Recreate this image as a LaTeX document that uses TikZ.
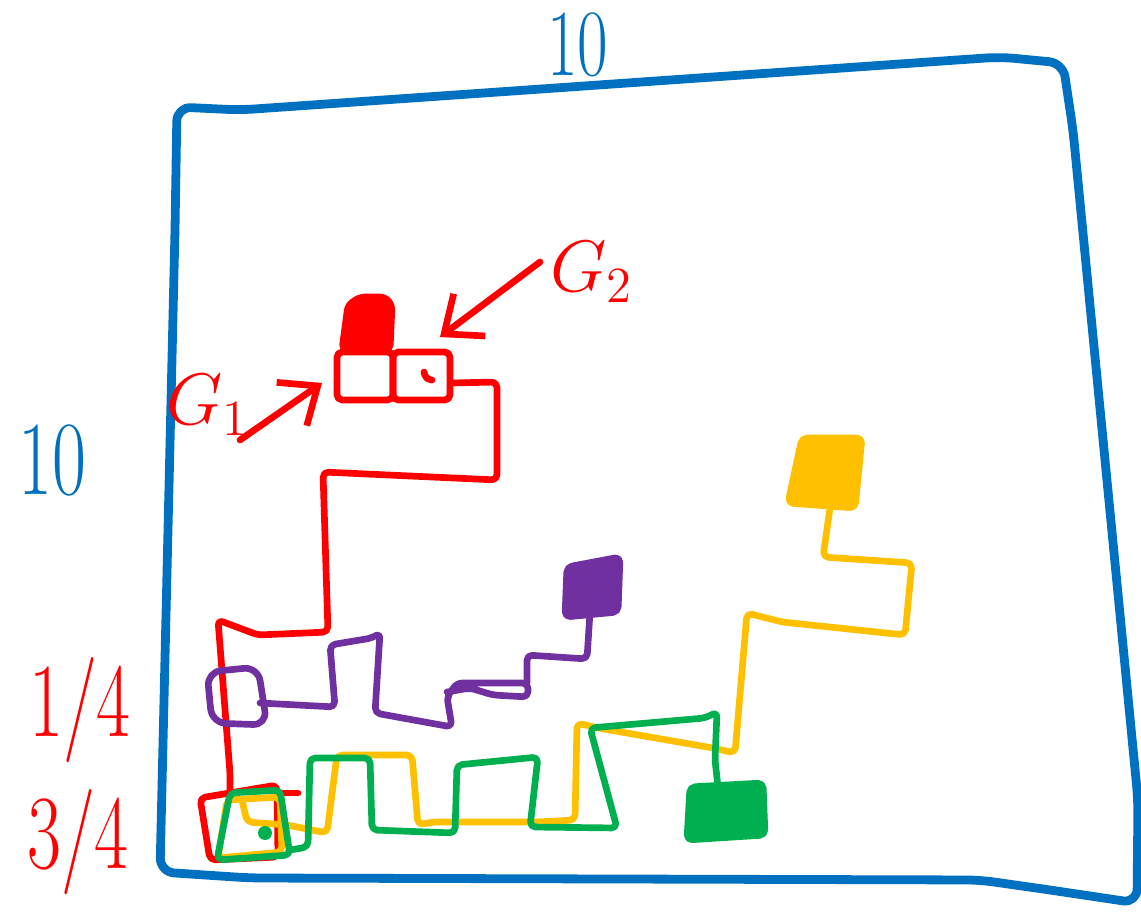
\documentclass[tikz,border=0pt]{standalone}
\usetikzlibrary{arrows.meta}
\definecolor{penblue}{RGB}{0,112,192}
\definecolor{penred}{RGB}{255,0,0}
\definecolor{penpurple}{RGB}{112,48,160}
\definecolor{penyellow}{RGB}{255,192,0}
\definecolor{pengreen}{RGB}{0,176,80}
\newcommand{\narrow}[1]{\scalebox{0.7}[1]{#1}}
\begin{document}
\begin{tikzpicture}[x=0.01cm,y=-0.01cm,line cap=round,line join=round,
  >={Straight Barb[length=9pt,width=15pt]},
  pen/.style={line width=1.9pt,rounded corners=1.5pt},
  big/.style={font=\fontsize{30}{30}\selectfont,inner sep=0pt},
  mid/.style={font=\fontsize{22}{22}\selectfont,inner sep=0pt}]
  \useasboundingbox (0,0) rectangle (1141,912);
  % outer box, 10 by 10
  \draw[penblue,line width=2.5pt,rounded corners=4pt] (175,230) -- (177,107) -- (240,110)
    -- (1000,57) -- (1063,63) -- (1073,130) -- (1138,800) -- (1137,903)
    -- (1050,890) -- (980,880) -- (250,878) -- (160,872) -- (175,230);
  \node[penblue,big,font=\fontsize{27}{27}\selectfont] (top) at (578,45) {\narrow{10}};
  \node[penblue,big] (side) at (52,460) {\narrow{10}};
  % fractions on the left
  \node[penred,big] (quarter) at (80,710) {\narrow{1/4}};
  \node[penred,big] (threeq) at (78,842) {\narrow{3/4}};
  % red path and goals
  \filldraw[pen,penred] (342,350) -- (348,305) -- (360,297) -- (385,297) -- (392,305) -- (390,350) -- cycle;
  \draw[pen,penred] (337,352) rectangle (393,400);
  \draw[pen,penred] (393,352) rectangle (450,400);
  \draw[pen,penred] (424,372) -- (426,380) -- (432,380);
  \draw[pen,penred] (452,383) -- (497,382) -- (497,480) -- (323,472) -- (328,632)
    -- (258,635) -- (218,620) -- (230,773) -- (230,800);
  \draw[pen,penred] (200,798) -- (277,785) -- (278,857) -- (210,860) -- cycle;
  \draw[pen,penred] (277,793) -- (298,793);
  \node[penred,mid] (gone) at (208,405) {$G_1$};
  \node[penred,mid] (gtwo) at (592,272) {$G_2$};
  \coordinate (gonetip) at (322,383);
  \coordinate (gtwotip) at (440,337);
  \draw[pen,penred,->] (240,440) -- (gonetip);
  \draw[pen,penred,->] (540,262) -- (gtwotip);
  % purple path
  \draw[pen,penpurple,rounded corners=4pt] (207,672) -- (258,667) -- (267,725) -- (212,723) -- cycle;
  \draw[pen,penpurple] (260,703) -- (335,707) -- (330,645) -- (372,638) -- (380,633)
    -- (375,713) -- (452,727) -- (447,697) -- (457,683) -- (528,683) -- (528,697)
    -- (493,695) -- (470,688) -- (447,692);
  \draw[pen,penpurple] (527,683) -- (527,655) -- (587,659) -- (590,612);
  \filldraw[pen,penpurple] (565,617) -- (567,567) -- (620,557) -- (618,612) -- cycle;
  % yellow path
  \filldraw[pen,penyellow] (802,438) -- (862,438) -- (855,508) -- (788,503) -- cycle;
  \draw[pen,penyellow] (830,508) -- (823,557) -- (912,563) -- (905,635) -- (782,622)
    -- (747,613) -- (735,753) -- (713,748) -- (598,728) -- (577,723) -- (575,820)
    -- (537,822) -- (433,822) -- (418,825) -- (412,755) -- (337,755) -- (327,833)
    -- (287,825) -- (247,822) -- (242,800);
  \draw[pen,penyellow] (227,800) -- (280,797) -- (282,852) -- (218,858) -- cycle;
  % green path
  \draw[pen,pengreen] (230,793) -- (280,790) -- (290,855) -- (217,860) -- cycle;
  \fill[pengreen] (265,833) circle (7);
  \draw[pen,pengreen] (290,850) -- (308,847) -- (310,758) -- (370,758) -- (372,830)
    -- (455,833) -- (457,765) -- (538,757) -- (530,827) -- (617,828) -- (590,728)
    -- (705,718) -- (717,712) -- (715,760) -- (718,787);
  \filldraw[pen,pengreen] (690,787) -- (763,783) -- (765,835) -- (687,840) -- cycle;
\end{tikzpicture}
\end{document}
